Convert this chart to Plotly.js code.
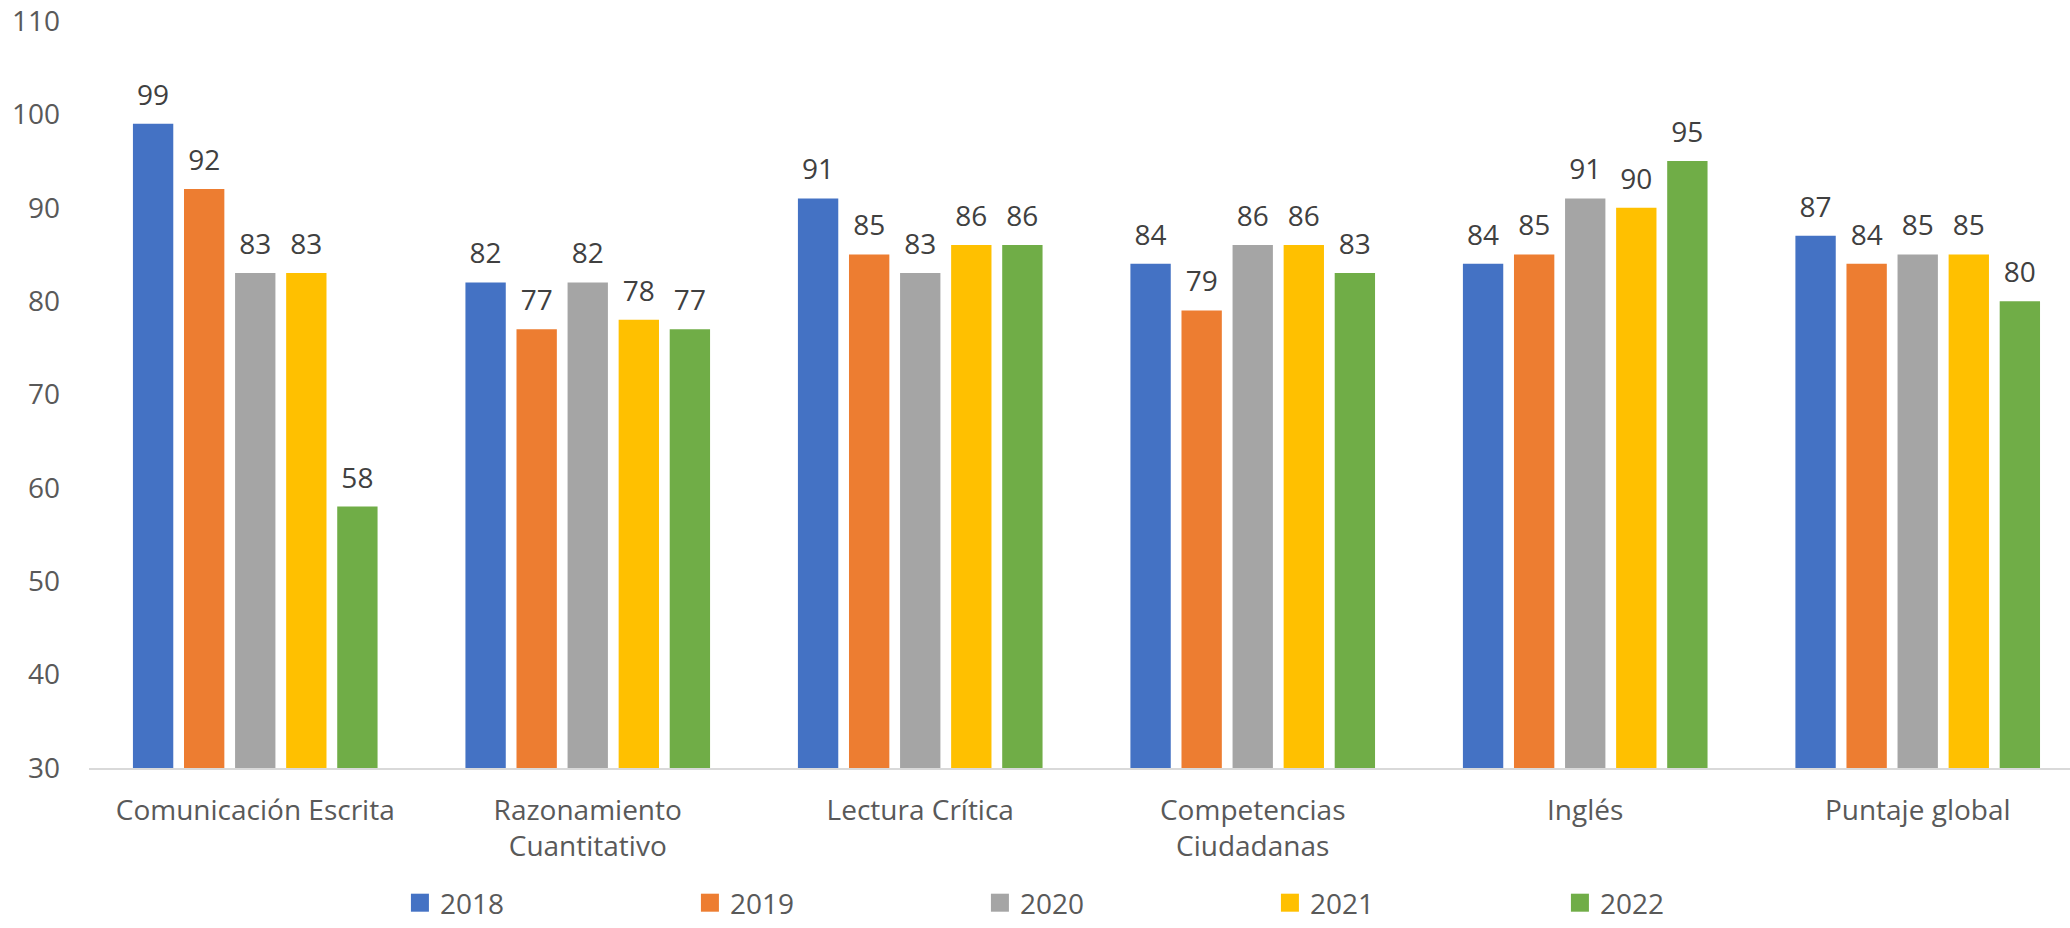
<!DOCTYPE html>
<html>
<head>
<meta charset="utf-8">
<script src="https://cdn.plot.ly/plotly-3.0.1.min.js"></script>
<style>
  html, body { margin: 0; padding: 0; background: #ffffff; }
  #chart { width: 2070px; height: 928px; }
</style>
</head>
<body>
<div id="chart"></div>
<script>
const categories = [
  "Comunicación Escrita",
  "Razonamiento<br>Cuantitativo",
  "Lectura Crítica",
  "Competencias<br>Ciudadanas",
  "Inglés",
  "Puntaje global"
];
const years = ["2018", "2019", "2020", "2021", "2022"];
const values2018 = [99, 82, 91, 84, 84, 87];
const values2019 = [92, 77, 85, 79, 85, 84];
const values2020 = [83, 82, 83, 86, 91, 85];
const values2021 = [83, 78, 86, 86, 90, 85];
const values2022 = [58, 77, 86, 83, 95, 80];
const seriesValues = [values2018, values2019, values2020, values2021, values2022];
const colors = ["#4472C4", "#ED7D31", "#A5A5A5", "#FFC000", "#70AD47"];

const FONT = "'Open Sans', 'Noto Sans', 'Liberation Sans', sans-serif";

const traces = years.map((yr, i) => ({
  type: "bar",
  name: yr,
  x: categories,
  y: seriesValues[i],
  marker: { color: colors[i] },
  text: seriesValues[i].map(String),
  textposition: "outside",
  textfont: { family: FONT, size: 28, color: "#404040" },
  cliponaxis: false,
  hoverinfo: "x+y+name"
}));

const layout = {
  width: 2070,
  height: 928,
  paper_bgcolor: "#ffffff",
  plot_bgcolor: "rgba(0,0,0,0)",
  font: { family: FONT, size: 28, color: "#595959" },
  margin: { l: 89, r: 0, t: 21, b: 160, pad: 0, autoexpand: false },
  barmode: "group",
  bargap: 0.232,
  bargroupgap: 0.21,
  showlegend: true,
  legend: {
    orientation: "h",
    xref: "container",
    yref: "container",
    x: 0.1932,
    xanchor: "left",
    y: 0,
    yanchor: "bottom",
    entrywidth: 245,
    entrywidthmode: "pixels",
    font: { family: FONT, size: 28, color: "#595959" },
    bgcolor: "rgba(0,0,0,0)"
  },
  xaxis: {
    type: "category",
    range: [-0.5, 5.458],
    showgrid: false,
    zeroline: false,
    showline: true,
    linecolor: "#D9D9D9",
    linewidth: 2,
    ticks: "",
    ticklabelstandoff: 16,
    tickfont: { family: FONT, size: 28, color: "#595959" },
    fixedrange: true
  },
  yaxis: {
    range: [30, 110],
    dtick: 10,
    tick0: 30,
    showgrid: false,
    zeroline: false,
    showline: false,
    ticks: "",
    ticklabelstandoff: 28,
    tickfont: { family: FONT, size: 28, color: "#595959" },
    fixedrange: true
  }
};

Plotly.newPlot("chart", traces, layout, { displayModeBar: false }).then(() => {
  // larger square legend swatches, as in the reference
  document.querySelectorAll(".legendpoints path").forEach(p => {
    p.setAttribute("d", "M9,9H-9V-9H9Z");
  });
  // lift the data labels a little above the bars, as in the reference
  document.querySelectorAll(".bartext").forEach(t => {
    const tr = t.getAttribute("transform") || "";
    t.setAttribute("transform", "translate(0,-8) " + tr);
  });
});
</script>
</body>
</html>
